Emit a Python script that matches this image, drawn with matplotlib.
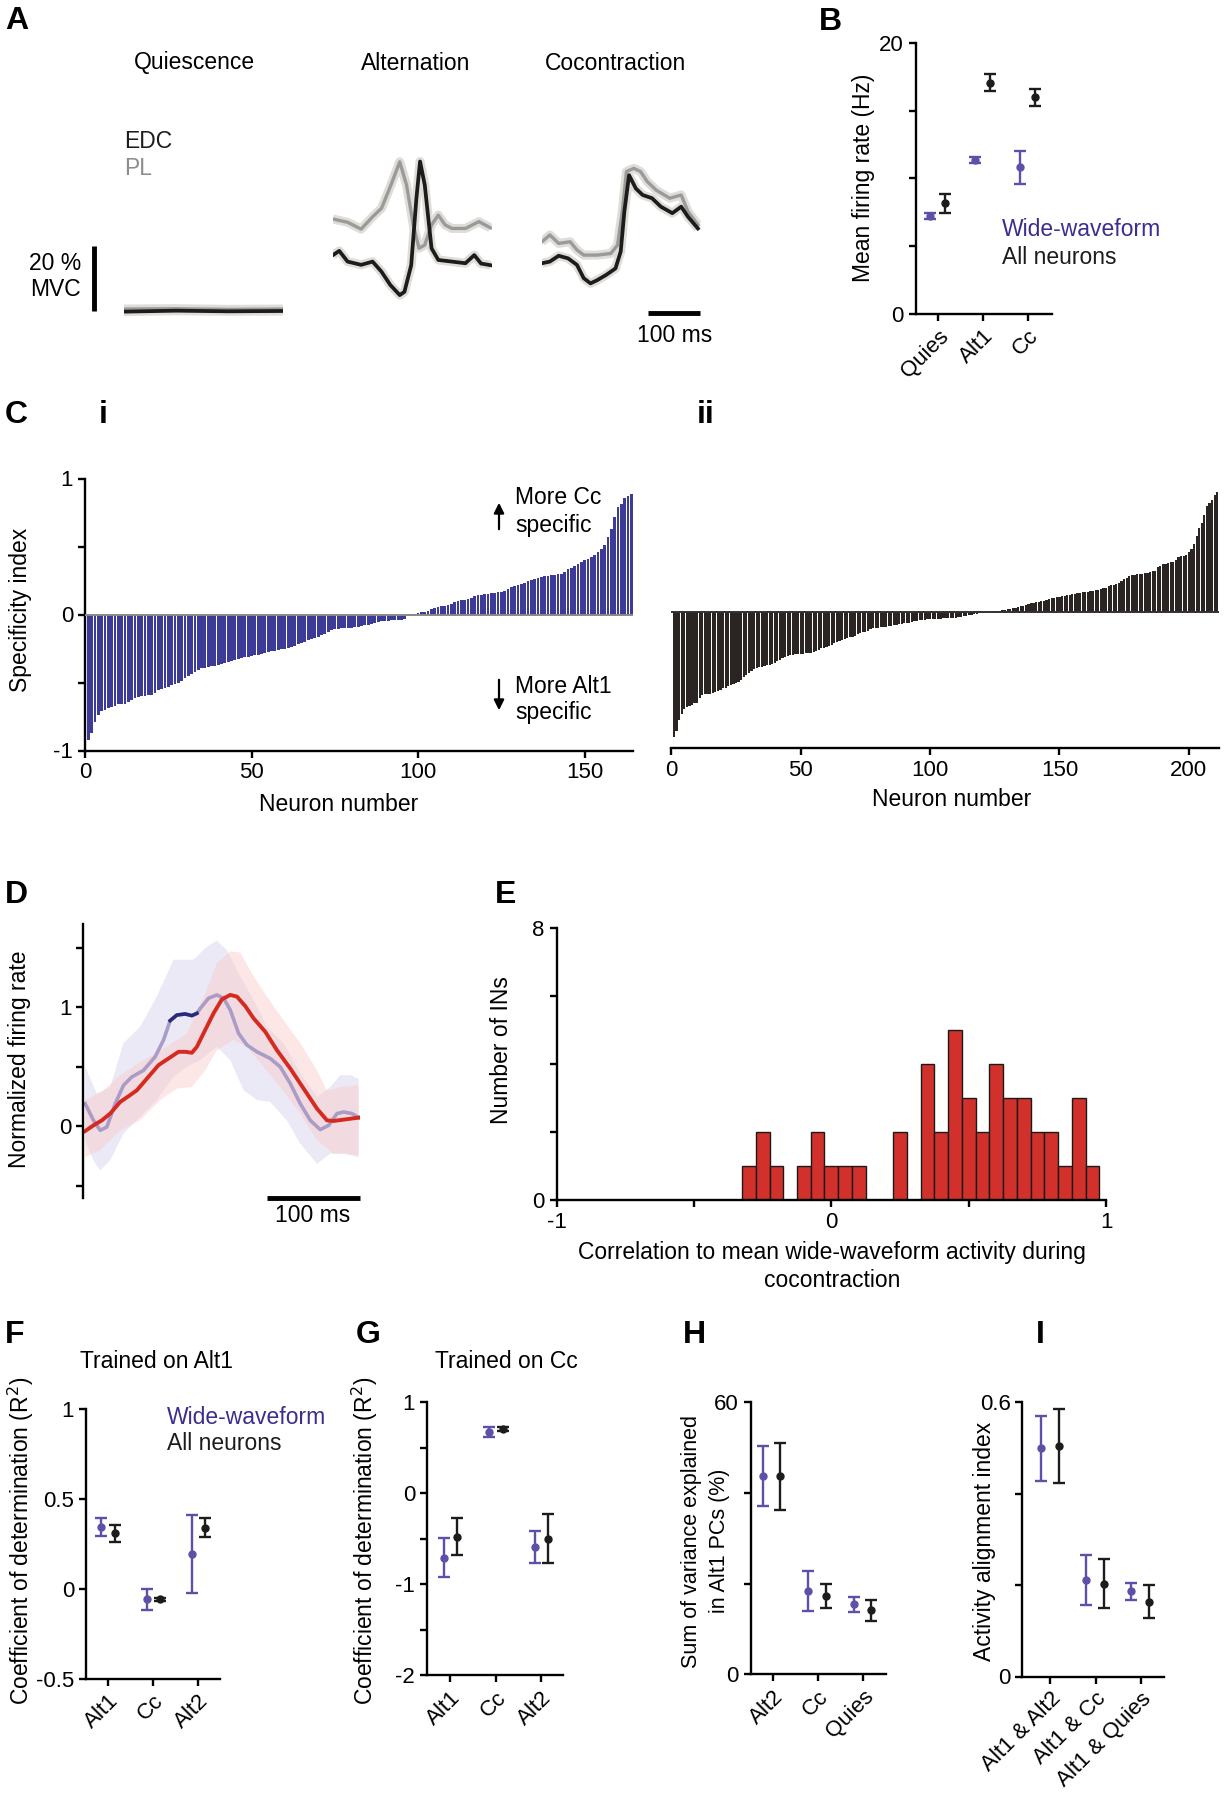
import matplotlib
matplotlib.use("Agg")
import matplotlib.pyplot as plt
import numpy as np

W, H = 1229, 1800

# ---------------------------------------------------------------------------
# Data
# ---------------------------------------------------------------------------

# A: EMG traces (% MVC) vs time (ms)
quies_t = [0, 100, 200, 305]
quies_edc = [-0.2, 0.1, -0.1, 0.0]
quies_pl = [0.6, 0.7, 0.5, 0.6]

alt_edc_t = [0, 12, 28, 54, 76, 93, 110, 128, 137, 150, 160, 167, 176, 189, 202, 228, 254, 271, 284, 302]
alt_edc = [17.2, 18.5, 15.2, 14.2, 15.2, 12.1, 8.0, 4.9, 5.9, 14.1, 34.7, 46.0, 38.8, 19.3, 15.7, 15.2, 14.7, 17.2, 14.6, 14.1]
alt_pl_t = [0, 28, 54, 76, 93, 110, 128, 141, 154, 165, 176, 189, 202, 215, 228, 254, 280, 302]
alt_pl = [28.3, 27.3, 25.2, 29.0, 31.6, 38.3, 45.9, 38.8, 26.5, 19.3, 20.3, 26.5, 29.5, 26.5, 25.4, 25.4, 27.5, 25.6]

cc_edc_t = [0, 15, 32, 50, 67, 80, 93, 106, 123, 141, 151, 158, 167, 180, 193, 211, 228, 250, 267, 280, 299]
cc_edc = [14.7, 15.2, 17.0, 16.2, 14.2, 10.1, 8.5, 9.5, 11.1, 13.1, 18.3, 30.6, 41.8, 37.7, 35.7, 34.7, 32.1, 30.1, 32.1, 29.0, 25.4]
cc_pl_t = [0, 15, 32, 54, 67, 80, 106, 132, 145, 154, 162, 176, 189, 202, 219, 245, 267, 280, 299]
cc_pl = [21.3, 23.4, 20.8, 21.3, 18.8, 17.2, 17.2, 17.7, 20.3, 30.6, 42.9, 43.9, 42.9, 39.8, 37.2, 34.7, 35.7, 30.6, 26.5]

# B: mean firing rate (Hz)
b_cats = ["Quies", "Alt1", "Cc"]
b_ww_mean = [7.24, 11.34, 10.82]
b_ww_err = [0.2, 0.22, 1.2]
b_all_mean = [8.17, 17.06, 15.97]
b_all_err = [0.7, 0.63, 0.63]

# C: sorted specificity index
ci_vals = [
    -0.92, -0.87, -0.79, -0.74, -0.71, -0.70, -0.69, -0.68, -0.67, -0.66,
    -0.66, -0.66, -0.64, -0.63, -0.615, -0.61, -0.60, -0.60, -0.595, -0.59,
    -0.58, -0.555, -0.55, -0.54, -0.53, -0.52, -0.51, -0.505, -0.49, -0.47,
    -0.45, -0.435, -0.42, -0.41, -0.395, -0.39, -0.385, -0.38, -0.375, -0.37,
    -0.365, -0.36, -0.35, -0.34, -0.335, -0.33, -0.32, -0.31, -0.31, -0.305,
    -0.30, -0.30, -0.29, -0.28, -0.275, -0.27, -0.265, -0.26, -0.255, -0.25,
    -0.245, -0.24, -0.235, -0.22, -0.21, -0.20, -0.19, -0.18, -0.17, -0.165,
    -0.15, -0.14, -0.13, -0.115, -0.11, -0.105, -0.10, -0.10, -0.10, -0.098,
    -0.095, -0.09, -0.085, -0.08, -0.078, -0.07, -0.06, -0.055, -0.05, -0.046,
    -0.045, -0.044, -0.043, -0.042, -0.041, -0.03, -0.012, -0.004, 0.004, 0.012,
    0.018, 0.022, 0.026, 0.04, 0.051, 0.055, 0.06, 0.065, 0.072, 0.08,
    0.09, 0.10, 0.105, 0.11, 0.112, 0.125, 0.135, 0.14, 0.145, 0.149,
    0.15, 0.155, 0.16, 0.162, 0.166, 0.175, 0.19, 0.20, 0.21, 0.215,
    0.225, 0.235, 0.245, 0.255, 0.263, 0.27, 0.275, 0.28, 0.285, 0.288,
    0.29, 0.295, 0.30, 0.31, 0.337, 0.345, 0.36, 0.373, 0.385, 0.398,
    0.41, 0.42, 0.44, 0.46, 0.48, 0.51, 0.57, 0.63, 0.715, 0.79,
    0.81, 0.86, 0.87, 0.885,
]
cii_vals = [
    -0.92, -0.87, -0.79, -0.75, -0.71, -0.70, -0.69, -0.68, -0.67, -0.665,
    -0.63, -0.61, -0.605, -0.60, -0.60, -0.595, -0.59, -0.58, -0.57, -0.56,
    -0.555, -0.545, -0.535, -0.53, -0.52, -0.51, -0.495, -0.48, -0.465, -0.447,
    -0.435, -0.42, -0.41, -0.405, -0.40, -0.395, -0.39, -0.386, -0.38, -0.374,
    -0.36, -0.35, -0.34, -0.33, -0.325, -0.318, -0.312, -0.308, -0.307, -0.306,
    -0.304, -0.302, -0.30, -0.297, -0.294, -0.285, -0.275, -0.265, -0.26, -0.257,
    -0.25, -0.24, -0.228, -0.22, -0.212, -0.204, -0.198, -0.192, -0.186, -0.18,
    -0.172, -0.163, -0.155, -0.149, -0.143, -0.135, -0.127, -0.119, -0.116, -0.114,
    -0.112, -0.11, -0.107, -0.105, -0.102, -0.097, -0.092, -0.087, -0.085, -0.083,
    -0.08, -0.076, -0.072, -0.067, -0.063, -0.06, -0.058, -0.056, -0.053, -0.051,
    -0.05, -0.049, -0.048, -0.047, -0.046, -0.046, -0.045, -0.045, -0.044, -0.044,
    -0.038, -0.033, -0.029, -0.026, -0.022, -0.018, -0.014, -0.01, -0.005, -0.002,
    0.0, 0.0, 0.002, 0.005, 0.007, 0.01, 0.012, 0.015, 0.018, 0.022,
    0.026, 0.03, 0.034, 0.039, 0.044, 0.049, 0.054, 0.058, 0.064, 0.07,
    0.073, 0.077, 0.08, 0.086, 0.092, 0.097, 0.102, 0.107, 0.11, 0.112,
    0.116, 0.12, 0.124, 0.128, 0.131, 0.134, 0.138, 0.141, 0.146, 0.15,
    0.152, 0.154, 0.155, 0.16, 0.165, 0.17, 0.175, 0.18, 0.19, 0.197,
    0.203, 0.208, 0.214, 0.23, 0.245, 0.255, 0.263, 0.27, 0.275, 0.28,
    0.282, 0.284, 0.286, 0.29, 0.294, 0.3, 0.306, 0.33, 0.342, 0.354,
    0.358, 0.362, 0.367, 0.371, 0.387, 0.403, 0.41, 0.415, 0.42, 0.44,
    0.463, 0.5, 0.56, 0.62, 0.658, 0.718, 0.78, 0.803, 0.828, 0.864, 0.883,
]

# D: normalized firing rate vs time (ms)
d_red_t = [0, 9, 18, 27, 37.8, 46.8, 55.8, 66.5, 79.1, 89.9, 100.7, 107.9, 115.1, 120.5, 129.5,
           138.5, 147.5, 156.5, 163.7, 172.7, 181.7, 194.2, 206.8, 221.2, 235.6, 250, 260.8, 268, 278.8, 295]
d_red = [-0.04, 0.008, 0.05, 0.107, 0.205, 0.253, 0.303, 0.40, 0.514, 0.57, 0.626, 0.626, 0.618, 0.668, 0.81,
         0.95, 1.067, 1.104, 1.09, 1.01, 0.907, 0.795, 0.64, 0.486, 0.317, 0.149, 0.05, 0.045, 0.056, 0.073]
d_red_up_t = [0, 18, 37.8, 62.9, 88.1, 109.7, 127.7, 142.1, 156.5, 167.3, 181.7, 196, 214, 232, 250, 260.8, 275.2, 295]
d_red_up = [0.22, 0.29, 0.43, 0.556, 0.67, 0.78, 1.08, 1.37, 1.47, 1.46, 1.26, 1.09, 0.89, 0.70, 0.47, 0.30, 0.33, 0.345]
d_red_lo_t = [0, 16.2, 37.8, 59.4, 80.9, 98.9, 115.1, 129.5, 142.1, 160.1, 174.5, 192.4, 210.4, 232, 250, 268, 282.4, 295]
d_red_lo = [-0.26, -0.2, -0.034, 0.05, 0.22, 0.317, 0.33, 0.47, 0.64, 0.725, 0.67, 0.5, 0.33, 0.107, -0.118, -0.23, -0.23, -0.244]

d_ww_t = [0, 9.0, 16.2, 23.4, 32.4, 41.4, 50.4, 62.9, 75.5, 84.5, 91.7, 98.9, 107.9, 115.1, 120.5, 124.1, 133.1,
          142.1, 149.3, 156.5, 165.5, 174.5, 185.3, 199.6, 210.4, 221.2, 232.0, 242.8, 253.6, 262.6, 271.6, 278.8, 287.8, 295.0]
d_ww = [0.19, 0.05, -0.034, -0.006, 0.19, 0.345, 0.415, 0.47, 0.584, 0.725, 0.888, 0.935, 0.944, 0.93, 0.949, 0.99, 1.076,
        1.104, 1.076, 0.978, 0.78, 0.683, 0.626, 0.57, 0.5, 0.36, 0.19, 0.05, -0.028, 0.008, 0.107, 0.12, 0.107, 0.073]
d_ww_up_t = [0, 12.6, 27, 41.4, 59.4, 77.3, 95.3, 116.9, 131.3, 142.1, 152.9, 167.3, 181.7, 196, 214, 232, 250, 264.4, 275.2, 286, 295]
d_ww_up = [0.5, 0.275, 0.33, 0.70, 0.837, 1.09, 1.40, 1.40, 1.51, 1.56, 1.48, 1.26, 1.06, 0.837, 0.697, 0.444, 0.247, 0.33, 0.43, 0.43, 0.40]
d_ww_lo_t = [0, 9, 16.2, 27, 41.4, 59.4, 77.3, 95.3, 109.7, 124.1, 142.1, 156.5, 170.9, 185.3, 199.6, 217.6, 232, 250, 264.4, 278.8, 295]
d_ww_lo = [-0.118, -0.287, -0.37, -0.287, -0.062, 0.079, 0.22, 0.415, 0.5, 0.556, 0.668, 0.556, 0.303, 0.22, 0.205, 0.05, -0.146, -0.315, -0.23, -0.23, -0.26]
d_sig_window = (90, 122)

# E: histogram of correlations
e_bin_centers = [-0.30, -0.25, -0.20, -0.15, -0.10, -0.05, 0.00, 0.05, 0.10, 0.15, 0.20, 0.25, 0.30,
                 0.35, 0.40, 0.45, 0.50, 0.55, 0.60, 0.65, 0.70, 0.75, 0.80, 0.85, 0.90, 0.95]
e_counts = [1, 2, 1, 0, 1, 2, 1, 1, 1, 0, 0, 2, 0, 4, 2, 5, 3, 2, 4, 3, 3, 2, 2, 1, 3, 1]

# F: trained on Alt1
f_cats = ["Alt1", "Cc", "Alt2"]
f_ww_mean = [0.346, -0.059, 0.193]
f_ww_err = [0.05, 0.061, 0.217]
f_all_mean = [0.309, -0.059, 0.34]
f_all_err = [0.048, 0.008, 0.054]

# G: trained on Cc
g_cats = ["Alt1", "Cc", "Alt2"]
g_ww_mean = [-0.709, 0.668, -0.591]
g_ww_err = [0.213, 0.055, 0.178]
g_all_mean = [-0.477, 0.705, -0.5]
g_all_err = [0.2, 0.025, 0.27]

# H: variance explained in Alt1 PCs (%)
h_cats = ["Alt2", "Cc", "Quies"]
h_ww_mean = [43.65, 18.34, 15.4]
h_ww_err = [6.6, 4.4, 1.7]
h_all_mean = [43.65, 17.24, 14.09]
h_all_err = [7.4, 2.7, 2.3]

# I: activity alignment index
i_cats = ["Alt1 & Alt2", "Alt1 & Cc", "Alt1 & Quies"]
i_ww_mean = [0.499, 0.211, 0.186]
i_ww_err = [0.071, 0.055, 0.018]
i_all_mean = [0.505, 0.203, 0.164]
i_all_err = [0.081, 0.053, 0.036]

# ---------------------------------------------------------------------------
# Style
# ---------------------------------------------------------------------------
FS = 16.5
plt.rcParams.update({
    "font.family": ["Liberation Sans", "DejaVu Sans"],
    "font.size": FS,
    "axes.linewidth": 1.7,
    "axes.unicode_minus": False,
    "xtick.major.width": 1.7,
    "ytick.major.width": 1.7,
    "xtick.major.size": 5,
    "ytick.major.size": 5,
    "xtick.labelsize": 16,
    "ytick.labelsize": 16,
    "xtick.direction": "out",
    "ytick.direction": "out",
})

PURPLE = "#5e50a8"
PURPLE_TXT = "#3b2e8e"
BLACK = "#1c1c1c"
GRAY = "#9a9a9a"
BAND = "#e0ddd8"
BAR_BLUE = "#3c3c98"
BAR_DARK = "#2a2523"
RED = "#d42a20"

fig = plt.figure(figsize=(W / 100, H / 100), dpi=100)


def px_axes(left, top, width, height):
    return fig.add_axes([left / W, 1 - (top + height) / H, width / W, height / H])


def ftext(x, y, s, **kw):
    kw.setdefault("ha", "center")
    kw.setdefault("va", "center")
    kw.setdefault("fontsize", FS)
    fig.text(x / W, 1 - y / H, s, **kw)


def clean(ax, left=True, bottom=True):
    ax.spines["top"].set_visible(False)
    ax.spines["right"].set_visible(False)
    ax.spines["left"].set_visible(left)
    ax.spines["bottom"].set_visible(bottom)


def letter(x, y, s):
    ftext(x, y, s, ha="left", fontsize=23, fontweight="bold")


def dot_panel(ax, cats, ww_m, ww_e, all_m, all_e, off=(-0.17, 0.16)):
    x = np.arange(len(cats))
    ax.errorbar(x + off[0], ww_m, yerr=ww_e, fmt="o", color=PURPLE, ms=5,
                capsize=4, elinewidth=1.7, capthick=1.7)
    ax.errorbar(x + off[1], all_m, yerr=all_e, fmt="o", color=BLACK, ms=5,
                capsize=4, elinewidth=1.7, capthick=1.7)
    ax.set_xticks(x)
    ax.set_xticklabels(cats, rotation=45, ha="right", rotation_mode="anchor")
    clean(ax)


# ---------------------------------------------------------------------------
# A: EMG traces
# ---------------------------------------------------------------------------
a_specs = [
    (124, quies_t, quies_edc, quies_t, quies_pl),
    (333, alt_edc_t, alt_edc, alt_pl_t, alt_pl),
    (542, cc_edc_t, cc_edc, cc_pl_t, cc_pl),
]
a_axes = []
for left, te, ve, tp, vp in a_specs:
    ax = px_axes(left, 148.5, 159, 172.25)
    ax.set_xlim(0, 305)
    ax.set_ylim(-3, 50)
    ax.axis("off")
    ax.plot(tp, vp, color=BAND, lw=6.5, solid_capstyle="butt", solid_joinstyle="round", zorder=1)
    ax.plot(te, ve, color=BAND, lw=6.5, solid_capstyle="butt", solid_joinstyle="round", zorder=1)
    ax.plot(tp, vp, color=GRAY, lw=2.4, solid_joinstyle="round", zorder=2)
    ax.plot(te, ve, color=BLACK, lw=2.7, solid_joinstyle="round", zorder=3)
    a_axes.append(ax)

ftext(194.5, 63, "Quiescence")
ftext(415.4, 63, "Alternation")
ftext(615, 63, "Cocontraction")
ftext(124, 141, "EDC", ha="left", color=BLACK)
ftext(124, 168.7, "PL", ha="left", color="#8c8c8c")
ftext(81, 264, "20 %", ha="right")
ftext(81, 290, "MVC", ha="right")
a_axes[0].plot([-58, -58], [0, 20], color="k", lw=3.5, clip_on=False, solid_capstyle="butt")
a_axes[2].plot([204, 304], [-0.5, -0.5], color="k", lw=3.5, clip_on=False, solid_capstyle="butt")
ftext(675, 335, "100 ms")
letter(5, 21, "A")

# ---------------------------------------------------------------------------
# B: mean firing rate
# ---------------------------------------------------------------------------
axB = px_axes(915.7, 42.7, 136, 271.3)
dot_panel(axB, b_cats, b_ww_mean, b_ww_err, b_all_mean, b_all_err, off=(-0.185, 0.15))
axB.set_xlim(-0.5, 2.52)
axB.set_ylim(0, 20)
axB.set_yticks([0, 5, 10, 15, 20])
axB.set_yticklabels(["0", "", "", "", "20"])
ftext(863.3, 178, "Mean firing rate (Hz)", rotation=90)
ftext(1001.7, 230, "Wide-waveform", ha="left", color=PURPLE_TXT)
ftext(1001.7, 257.7, "All neurons", ha="left", color=BLACK)
letter(819, 22, "B")

# ---------------------------------------------------------------------------
# C: specificity index
# ---------------------------------------------------------------------------
axCi = px_axes(84.9, 478.5, 548.5, 272)
axCi.bar(np.arange(1, len(ci_vals) + 1), ci_vals, width=0.82, color=BAR_BLUE, linewidth=0)
axCi.axhline(0, color="#8a8a8a", lw=1.4, zorder=3)
axCi.set_xlim(0, 164.6)
axCi.set_ylim(-1, 1)
axCi.set_yticks([-1, -0.5, 0, 0.5, 1])
axCi.set_yticklabels(["-1", "", "0", "", "1"])
axCi.set_xticks([0, 50, 100, 150])
clean(axCi)
ftext(20.6, 609.5, "Specificity index", rotation=90)
ftext(338.5, 804.4, "Neuron number")

arrow_kw = dict(arrowstyle="-|>", lw=1.6, color="k", mutation_scale=15)
fig.add_artist(matplotlib.patches.FancyArrowPatch(
    (499 / W, 1 - 532 / H), (499 / W, 1 - 500 / H), transform=fig.transFigure, **arrow_kw))
fig.add_artist(matplotlib.patches.FancyArrowPatch(
    (499 / W, 1 - 677 / H), (499 / W, 1 - 713 / H), transform=fig.transFigure, **arrow_kw))
ftext(515, 498, "More Cc", ha="left")
ftext(515, 525.6, "specific", ha="left")
ftext(515, 686, "More Alt1", ha="left")
ftext(515, 712.6, "specific", ha="left")

axCii = px_axes(671.3, 476.2, 547.3, 272)
axCii.bar(np.arange(1, len(cii_vals) + 1), cii_vals, width=0.85, color=BAR_DARK, linewidth=0)
axCii.axhline(0, color="#333333", lw=1.4, zorder=3)
axCii.set_xlim(0, 211.5)
axCii.set_ylim(-1, 1)
axCii.set_yticks([])
axCii.set_xticks([0, 50, 100, 150, 200])
clean(axCii, left=False)
ftext(951.3, 799.8, "Neuron number")

letter(5, 415, "C")
letter(99, 415, "i")
letter(697, 415, "ii")

# ---------------------------------------------------------------------------
# D: normalized firing rate
# ---------------------------------------------------------------------------
axD = px_axes(83.3, 924, 276.3, 273.7)
axD.fill(np.r_[d_ww_up_t, d_ww_lo_t[::-1]], np.r_[d_ww_up, d_ww_lo[::-1]],
         color="#dcd7f0", alpha=0.55, lw=0)
axD.fill(np.r_[d_red_up_t, d_red_lo_t[::-1]], np.r_[d_red_up, d_red_lo[::-1]],
         color="#fbc9c9", alpha=0.45, lw=0)
axD.plot(d_ww_t, d_ww, color="#aa9cc6", lw=2.6, solid_joinstyle="round")
sig = [(t, v) for t, v in zip(d_ww_t, d_ww) if d_sig_window[0] <= t <= d_sig_window[1]]
axD.plot([s[0] for s in sig], [s[1] for s in sig], color="#2a2a7a", lw=2.6)
axD.plot(d_red_t, d_red, color=RED, lw=2.8, solid_joinstyle="round")
axD.set_xlim(-2, 296)
axD.set_ylim(-0.6, 1.7)
axD.set_yticks([-0.5, 0, 0.5, 1, 1.5])
axD.set_yticklabels(["", "0", "", "1", ""])
axD.set_xticks([])
clean(axD, bottom=False)
axD.plot([196, 296], [-0.6, -0.6], color="k", lw=3.5, clip_on=False, solid_capstyle="butt")
ftext(313, 1216, "100 ms")
ftext(19.5, 1059, "Normalized firing rate", rotation=90)
letter(5, 895, "D")

# ---------------------------------------------------------------------------
# E: histogram
# ---------------------------------------------------------------------------
axE = px_axes(556.5, 928.3, 549.7, 272)
axE.bar(e_bin_centers, e_counts, width=0.05, color="#d2302a", edgecolor="#1a1a1a", linewidth=1.0)
axE.set_xlim(-1, 1)
axE.set_ylim(0, 8)
axE.set_yticks([0, 2, 4, 6, 8])
axE.set_yticklabels(["0", "", "", "", "8"])
axE.set_xticks([-1, -0.5, 0, 0.5, 1])
axE.set_xticklabels(["-1", "", "0", "", "1"])
clean(axE)
ftext(501.5, 1050, "Number of INs", rotation=90)
ftext(832, 1253, "Correlation to mean wide-waveform activity during")
ftext(832, 1280.6, "cocontraction")
letter(495, 895, "E")

# ---------------------------------------------------------------------------
# F-I: error-bar panels
# ---------------------------------------------------------------------------
axF = px_axes(86, 1409, 134, 269.8)
dot_panel(axF, f_cats, f_ww_mean, f_ww_err, f_all_mean, f_all_err, off=(-0.14, 0.16))
axF.set_xlim(-0.483, 2.49)
axF.set_ylim(-0.5, 1)
axF.set_yticks([-0.5, 0, 0.5, 1])
axF.set_yticklabels(["-0.5", "0", "0.5", "1"])
ftext(157, 1361, "Trained on Alt1")
ftext(166.8, 1417, "Wide-waveform", ha="left", color=PURPLE_TXT)
ftext(166.8, 1444, "All neurons", ha="left", color=BLACK)
ftext(20.6, 1541, "Coefficient of determination (R$^2$)", rotation=90)
letter(5, 1335, "F")

axG = px_axes(426.9, 1402.2, 136, 273.2)
dot_panel(axG, g_cats, g_ww_mean, g_ww_err, g_all_mean, g_all_err, off=(-0.15, 0.155))
axG.set_xlim(-0.517, 2.474)
axG.set_ylim(-2, 1)
axG.set_yticks([-2, -1.5, -1, -0.5, 0, 0.5, 1])
axG.set_yticklabels(["-2", "", "-1", "", "0", "", "1"])
ftext(506, 1361, "Trained on Cc")
ftext(365, 1541, "Coefficient of determination (R$^2$)", rotation=90)
letter(356, 1335, "G")

axH = px_axes(750.5, 1402.2, 135, 272)
dot_panel(axH, h_cats, h_ww_mean, h_ww_err, h_all_mean, h_all_err, off=(-0.21, 0.17))
axH.set_xlim(-0.49, 2.49)
axH.set_ylim(0, 60)
axH.set_yticks([0, 20, 40, 60])
axH.set_yticklabels(["0", "", "", "60"])
ftext(692, 1541, "Sum of variance explained", rotation=90, fontsize=15.5)
ftext(719.5, 1541, "in Alt1 PCs (%)", rotation=90, fontsize=15.5)
letter(683, 1335, "H")

axI = px_axes(1022.4, 1402.2, 142, 274.3)
dot_panel(axI, i_cats, i_ww_mean, i_ww_err, i_all_mean, i_all_err, off=(-0.21, 0.18))
axI.set_xlim(-0.62, 2.52)
axI.set_ylim(0, 0.6)
axI.set_yticks([0, 0.2, 0.4, 0.6])
axI.set_yticklabels(["0", "", "", "0.6"])
ftext(984.6, 1541, "Activity alignment index", rotation=90)
letter(1036, 1335, "I")

fig.savefig("out.png", dpi=100)
